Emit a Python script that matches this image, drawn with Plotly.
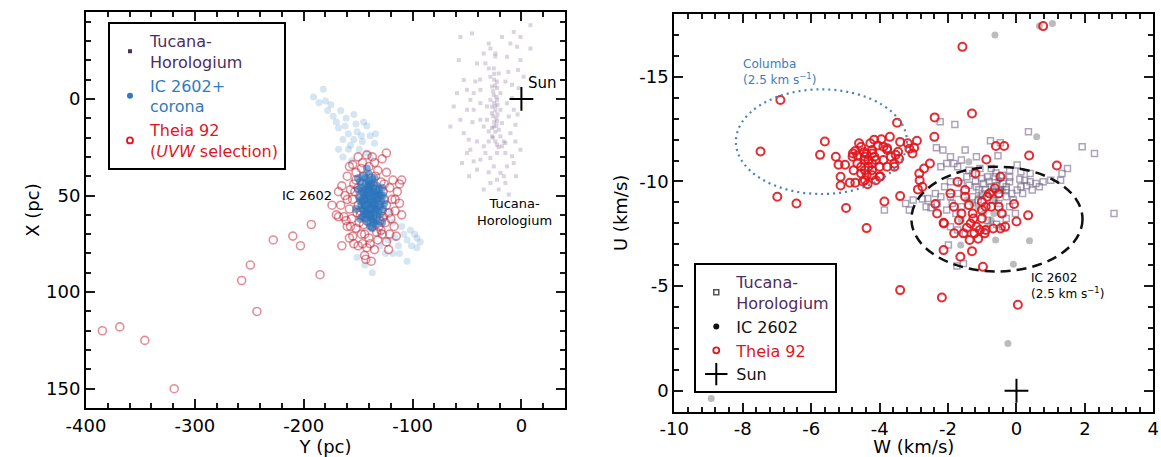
import plotly.graph_objects as go

# ================= DATA =================
# ---- Left panel: galactic positions (Y pc, X pc) ----
tuc_pos = [(8.3,-38.2),(-45.4,-33.9),(-7.0,-34.7),(-17.8,-32.1),(-30.0,-28.7),(-28.5,-26.1),(-34.6,-23.5),
    (-23.9,-23.5),(-57.6,-20.1),(-0.9,-32.1),(-13.2,-21.8),(-53.0,-9.8),(-42.3,-9.0),(-30.0,-15.8),
    (-25.4,-15.8),(-20.8,-13.2),(-28.5,-11.5),(-14.7,-9.0),(-8.6,-7.3),(-37.7,-4.7),(-22.4,-5.6),
    (-25.4,-2.1),(-22.4,0.5),(-23.9,3.9),(-19.3,5.6),(-27.0,7.4),(-31.6,10.8),(-22.4,11.7),(-17.8,12.5),
    (-25.4,14.3),(-20.8,16.0),(-30.0,16.8),(-19.3,19.4),(-23.9,22.0),(-14.7,22.8),(-34.6,24.5),
    (-40.8,22.0),(-48.4,21.1),(-53.0,17.7),(-56.1,10.8),(-43.8,5.6),(-37.7,2.2),(-46.9,0.5),(-50.0,5.6),
    (-37.7,10.8),(-34.6,14.3),(-11.6,9.1),(-7.0,5.6),(-5.5,13.4),(-10.1,17.7),(-14.7,28.0),(-8.6,29.7),
    (-22.4,28.0),(-28.5,30.6),(-37.7,31.4),(-43.8,32.3),(-54.6,33.2),(-46.9,26.3),(-25.4,34.9),
    (-19.3,38.3),(-13.2,34.9),(-7.0,33.2),(-22.4,41.8),(-28.5,43.5),(-16.2,40.0),(-34.6,46.9),
    (-20.8,46.9),(-14.7,43.5),(-11.6,49.5),(-0.9,-20.1),(-4.0,-27.0),(-10.1,-28.7),(-56.1,-32.1),
    (8.3,-26.1),(-40.8,-18.4),(-33.1,-18.4),(-22.4,-9.0),(-27.0,-6.4),(-19.3,-3.0),(-28.5,0.5),
    (-31.6,3.9),(-13.2,2.2),(-8.6,-0.4),(-2.5,-5.6),(2.1,-11.5),(-59.2,-3.0),(-50.0,-4.7),(-43.8,-3.0),
    (-16.2,22.0),(-17.8,24.5),(-27.0,19.4),(-30.0,22.0),(-22.4,23.7),(-33.1,28.0),(-40.8,36.6),
    (-50.0,28.0),(-0.9,26.3),(-5.5,22.0),(-65.3,14.3),(-62.2,3.9),(-3.5,8.0),(-12.0,-14.0),
    (-45.0,12.0),(-38.0,-10.0),(-5.0,40.0),(-30.0,38.0),(-48.0,40.0),(-3.0,-15.0),
    (-25,-10),(-24,-7),(-26,-4),(-23,-1),(-25,2),(-27,4),(-24,6),(-22,8),(-26,9),(-25,12),(-23,14),
    (-27,15),(-24,17),(-26,20),(-21,25),(-25,-13),(-24,-22),(-23,10),(-22,3)]

ic_corona_pos = [(-182,-5),(-191,-1),(-186,2),(-180,1),(-178,6),(-173,9),(-166,6),(-161,10),(-154,8),
    (-152,13),(-168,15),(-159,18),(-151,17),(-142,14),(-139,19),(-134,18),(-164,21),(-154,21),
    (-146,22),(-135,23),(-168,26),(-159,26),(-149,26),(-142,28),(-164,30),(-156,32),(-139,30),
    (-170,12),(-175,3),(-162,14),(-147,19),(-157,24),(-145,12),
    (-125,61),(-118,64),(-129,69),(-122,73),(-113,76),(-108,70),(-105,73),(-98,70),(-101,76),
    (-93,74),(-112,80),(-105,84),(-118,80),(-125,80),(-137,90),(-144,86),(-151,82),(-96,77),
    (-102,68),(-110,66),(-116,72),(-130,76),(-120,58),(-96,72)]

ic_core_pos = [(-145,40),(-140,39),(-135,41),(-148,43),(-143,44),(-138,44),(-133,45),(-128,46),
    (-150,47),(-146,48),(-141,48),(-136,48),(-131,49),(-127,50),(-149,51),(-144,52),(-139,52),
    (-134,52),(-129,53),(-147,55),(-142,55),(-137,56),(-132,56),(-127,57),(-145,58),(-140,59),
    (-135,59),(-130,60),(-143,62),(-138,62),(-133,63),(-141,50),(-137,53),(-143,47),(-135,55),
    (-139,57),(-131,47),(-146,53),(-141,45),(-136,51),(-144,60),(-134,65),(-139,66),(-148,62),
    (-152,57),(-126,54),(-128,64),(-142,36),(-137,67),(-150,41),(-140,54),(-138,49),(-142,58),
    (-136,46),(-144,50),(-134,57),(-140,43),(-132,52),(-146,57),(-138,60),(-142,52),(-136,55),
    (-140,47),(-134,49),(-144,55),(-139,61),(-147,46),(-133,50),(-130,56),(-145,49),(-139,45),
    (-135,62),(-141,64),(-148,53),(-129,50),(-137,42),(-132,59),(-143,41),(-146,61),(-136,64)]

theia_pos = [(-385,120),(-369,118),(-346,125),(-319,150),(-243,110),(-257,94),(-249,86),(-185,91),
    (-228,73),(-203,76),(-210,71),(-193,65),(-168,61),(-174,55),(-161,63),(-165,76),(-124,28),
    (-110,42),(-116,52),(-115,71),
    (-150,30),(-142,29),(-135,33),(-128,31),(-158,35),(-147,36),(-140,35),(-132,37),(-124,38),
    (-118,42),(-160,40),(-152,42),(-145,40),(-138,41),(-129,43),(-121,46),(-114,48),(-165,45),
    (-157,47),(-150,46),(-136,45),(-127,48),(-119,52),(-112,54),(-162,50),(-155,52),(-148,50),
    (-140,48),(-132,51),(-124,55),(-116,58),(-166,55),(-158,57),(-150,55),(-143,55),(-136,54),
    (-128,58),(-120,62),(-163,61),(-156,62),(-148,60),(-140,60),(-133,61),(-125,64),(-117,66),
    (-160,66),(-152,67),(-145,65),(-137,66),(-129,68),(-121,70),(-155,71),(-147,70),(-140,72),
    (-132,73),(-124,74),(-150,76),(-142,77),(-135,78),(-128,70),(-144,81),(-138,84),(-146,44),
    (-134,47),(-142,63),(-152,38),(-126,52),(-130,63),(-160,52),(-139,57),(-145,52),(-136,60),
    (-148,58),(-131,55),(-153,48),(-170,60),(-168,48),(-112,44),(-110,60),(-155,34),(-137,30),
    (-143,83),(-146,75),(-122,78),(-158,72),(-154,44),(-126,44),(-131,66),(-149,64),(-122,59),
    (-157,66),(-139,75),(-133,69),(-151,59),(-127,61),(-144,70),(-134,40),(-146,33),(-154,75)]

sun_pos = (0, 0)

# ---- Right panel: velocities (W km/s, U km/s) ----
tuc_vel = [(-2.23,-12.85),(-1.80,-12.72),(-0.76,-11.94),(-0.47,-11.85),(-0.54,-11.23),(-1.50,-11.50),
    (-1.17,-11.18),(0.35,-12.37),(1.92,-11.66),(2.28,-11.34),(1.49,-10.62),(1.33,-10.38),(1.29,-10.06),
    (-2.34,-11.61),(-2.15,-11.50),(-1.93,-11.18),(-1.83,-10.86),(-2.04,-10.86),(-2.21,-10.70),
    (-1.72,-10.70),(-1.61,-11.02),(-1.39,-10.54),(-1.28,-10.38),(-1.07,-10.62),(-0.74,-10.62),
    (-0.85,-10.22),(-0.63,-10.22),(-0.41,-10.30),(-0.20,-10.54),(0.02,-10.78),(0.13,-10.46),
    (0.24,-10.06),(0.40,-9.98),(0.57,-9.90),(0.78,-9.98),(1.00,-10.06),(0.67,-9.75),(0.46,-9.59),
    (0.13,-9.75),(-0.20,-9.98),(-0.30,-9.75),(-0.52,-9.59),(-0.74,-9.75),(-0.96,-9.90),(-1.17,-9.75),
    (-1.39,-9.82),(-1.61,-9.90),(-1.93,-9.98),(-2.10,-9.75),(-2.37,-9.43),(-2.21,-9.27),(-1.93,-9.27),
    (-1.72,-9.43),(-2.59,-9.19),(-2.75,-9.16),(-3.02,-9.11),(-3.24,-8.95),(-3.13,-8.63),(-2.32,-8.95),
    (-2.50,-8.74),(-2.64,-8.79),(-2.04,-8.63),(-1.77,-8.47),(-1.61,-8.79),(-1.28,-9.27),(-1.12,-9.11),
    (-0.68,-9.11),(-0.52,-8.95),(-0.30,-9.27),(-0.14,-9.43),(0.02,-9.59),(0.18,-9.43),(-0.20,-8.79),
    (-0.41,-8.47),(-0.30,-8.23),(-0.58,-7.96),(-0.85,-8.15),(-1.72,-7.68),(-1.93,-7.83),(-1.99,-6.96),
    (-1.50,-7.52),(-0.41,-7.83),(2.85,-8.47),(-3.86,-8.63),(-1.74,-5.96),(-1.55,-6.08),(-0.03,-8.47),
    (-0.09,-9.11),(-1.88,-8.95),(-1.45,-10.22),(-1.01,-10.14),(0.40,-10.38),
    (-0.9,-9.6),(-0.6,-9.8),(-0.4,-9.9),(-1.0,-9.4),(-0.7,-9.5),(-0.2,-10.2),(0.1,-10.1),(-1.2,-10.0),
    (-0.5,-9.4),(-0.8,-10.0),(-0.3,-9.6),(-1.1,-9.6),(0.3,-9.8),(-0.6,-10.4)]

ic_vel = [(-0.63,-17.0),(1.05,-17.55),(0.67,-17.42),(0.59,-12.13),(-0.61,-7.2),(-1.63,-6.96),
    (-0.09,-6.04),(0.38,-7.17),(-0.25,-2.26),(-8.92,0.37),(-1.39,-10.94),(-0.85,-9.43),(-1.07,-9.27),
    (-0.63,-9.11),(-0.41,-9.59),(-1.28,-8.95),(-0.96,-8.47),(-0.74,-8.15),(-1.12,-8.79),(-1.45,-9.11),
    (-0.52,-10.06),(-1.61,-8.15),(-0.85,-7.83),(-0.66,-8.47)]

theia_vel = [(0.78,-17.42),(-1.58,-16.43),(-6.90,-13.89),(-1.30,-13.25),(-2.39,-13.06),(-3.49,-12.80),
    (-2.40,-12.13),(-5.60,-11.91),(-7.48,-11.43),(-5.74,-11.27),(-5.28,-11.18),(-0.60,-11.69),
    (-0.36,-11.69),(0.37,-11.24),(1.18,-10.76),(-6.99,-9.27),(-6.43,-8.95),(-4.98,-8.73),(-3.86,-9.04),
    (-3.40,-9.30),(-4.38,-7.77),(-3.40,-4.81),(-2.18,-4.46),(0.04,-4.11),(-0.98,-5.92),(-1.64,-6.40),
    (-1.30,-6.67),(-2.13,-6.72),(-1.82,-7.52),(0.34,-8.38),(-0.07,-8.92),(0.0,-8.09),(-2.13,-8.03),
    (-5.20,-10.80),(-5.01,-10.80),(-4.79,-11.18),(-4.71,-11.46),(-4.54,-11.66),(-4.46,-11.40),
    (-4.22,-11.50),(-4.05,-11.72),(-3.95,-12.01),(-3.70,-12.13),(-3.89,-11.66),(-3.78,-11.50),
    (-4.15,-11.18),(-4.33,-11.02),(-4.43,-11.18),(-4.65,-10.86),(-4.76,-10.54),(-4.54,-10.38),
    (-4.22,-10.54),(-4.00,-10.70),(-3.78,-10.70),(-3.57,-10.70),(-4.43,-10.06),(-4.71,-9.94),
    (-4.87,-9.94),(-5.14,-10.22),(-5.14,-9.81),(-4.35,-9.87),(-4.00,-10.22),(-3.78,-11.58),
    (-3.46,-11.42),(-3.40,-11.89),(-3.18,-11.82),(-3.13,-11.56),(-3.04,-11.34),(-2.91,-11.94),
    (-2.99,-11.61),(-3.43,-11.08),(-3.53,-11.27),(-4.11,-11.02),(-4.22,-10.86),(-4.33,-10.70),
    (-4.54,-10.70),(-4.43,-11.02),(-4.65,-11.24),(-4.27,-11.82),(-4.16,-11.99),(-4.60,-11.82),
    (-4.38,-11.31),(-4.22,-11.34),(-4.78,-11.34),(-4.43,-10.54),(-4.38,-10.30),(-4.22,-10.30),
    (-3.89,-11.02),(-3.67,-11.18),(-3.57,-10.86),(-4.11,-10.06),(-3.98,-10.25),(-4.49,-10.00),
    (-2.84,-10.38),(-2.70,-10.62),(-2.53,-10.86),(-2.83,-10.06),(-2.75,-9.75),(-2.88,-9.62),
    (-2.37,-8.92),(-2.32,-8.47),(-2.12,-7.99),(-1.83,-8.79),(-1.50,-9.27),(-1.50,-9.59),(-1.39,-8.87),
    (-1.28,-8.47),(-1.34,-7.99),(-1.20,-10.38),(-0.88,-11.05),(-0.47,-10.22),(-0.52,-9.43),
    (-0.85,-9.27),(-0.90,-8.79),(-1.01,-8.63),(-0.74,-8.79),(-0.52,-8.79),(-0.43,-8.47),(-1.01,-8.23),
    (-1.17,-7.83),(-1.23,-7.52),(-1.37,-7.20),(-1.07,-7.68),(-0.90,-7.68),(-0.68,-7.75),(-0.47,-7.75),
    (-0.33,-7.83),(-1.12,-7.26),(-0.93,-7.52),(-1.68,-8.15),(-1.55,-7.52),(-1.45,-7.79),(-0.79,-9.43),
    (-0.63,-9.67),(-1.72,-9.98),(-1.93,-9.43),(-1.61,-8.47),(-1.26,-8.23),(-1.01,-9.03)]

# Velocity-ellipse definitions (km/s)
columba_center = (-5.7, -11.9)
ic2602_center = (-0.57, -8.2)
ellipse_radius = 2.5

# Axis ranges
left_xrange = [-400, 40]
left_yrange = [160, -45]
right_xrange = [-10, 4]
right_yrange = [1, -18]

# Tick labels
left_xticks = [-400, -300, -200, -100, 0]
left_xtext = ["-400", "-300", "-200", "-100", "0"]
left_yticks = [0, 50, 100, 150]
left_ytext = ["0", "50", "100", "150"]
right_xticks = [-10, -8, -6, -4, -2, 0, 2, 4]
right_xtext = ["-10", "-8", "-6", "-4", "-2", "0", "2", "4"]
right_yticks = [-15, -10, -5, 0]
right_ytext = ["-15", "-10", "-5", "0"]

# Minor tick spacing
left_xminor, left_yminor, right_xminor, right_yminor = 20, 10, 0.4, 1

# ================= FIGURE =================
def xs(p): return [a for a, b in p]
def ys(p): return [b for a, b in p]

FONT = "DejaVu Sans"
C_TUC = "#4e2d5f"
C_IC = "#2f7bc0"
C_RED = "#e0161e"
TICK = "#1a1a1a"

fig = go.Figure()

# --- left panel ---
fig.add_trace(go.Scatter(x=xs(tuc_pos), y=ys(tuc_pos), mode="markers", xaxis="x", yaxis="y",
    marker=dict(symbol="square", size=4, color="#5b3d70", opacity=0.22), showlegend=False))
fig.add_trace(go.Scatter(x=xs(ic_corona_pos), y=ys(ic_corona_pos), mode="markers", xaxis="x", yaxis="y",
    marker=dict(symbol="circle", size=7, color=C_IC, opacity=0.2), showlegend=False))
fig.add_trace(go.Scatter(x=xs(theia_pos), y=ys(theia_pos), mode="markers", xaxis="x", yaxis="y",
    marker=dict(symbol="circle-open", size=8, color="#c42035", opacity=0.5, line=dict(width=1.6)),
    showlegend=False))
fig.add_trace(go.Scatter(x=xs(ic_core_pos), y=ys(ic_core_pos), mode="markers", xaxis="x", yaxis="y",
    marker=dict(symbol="circle", size=8, color="#2a74bd", opacity=0.6), showlegend=False))
fig.add_trace(go.Scatter(x=[sun_pos[0]], y=[sun_pos[1]], mode="markers", xaxis="x", yaxis="y",
    marker=dict(symbol="cross-thin", size=17, line=dict(width=2, color="black")), showlegend=False))

# left legend entries
fig.add_trace(go.Scatter(x=[None], y=[None], mode="markers", xaxis="x", yaxis="y", legend="legend",
    name=f"<span style='color:{C_TUC}'>Tucana-<br>Horologium</span>",
    marker=dict(symbol="square", size=4, color=C_TUC)))
fig.add_trace(go.Scatter(x=[None], y=[None], mode="markers", xaxis="x", yaxis="y", legend="legend",
    name=f"<span style='color:{C_IC}'>IC 2602+<br>corona</span>",
    marker=dict(symbol="circle", size=6, color=C_IC)))
fig.add_trace(go.Scatter(x=[None], y=[None], mode="markers", xaxis="x", yaxis="y", legend="legend",
    name=f"<span style='color:{C_RED}'>Theia 92<br>(<i>UVW</i> selection)</span>",
    marker=dict(symbol="circle-open", size=6, color=C_RED, line=dict(width=1.8))))

# --- right panel ---
fig.add_trace(go.Scatter(x=xs(tuc_vel), y=ys(tuc_vel), mode="markers", xaxis="x2", yaxis="y2",
    marker=dict(symbol="square-open", size=6, color="#76688c", opacity=0.6, line=dict(width=1.5)),
    showlegend=False))
fig.add_trace(go.Scatter(x=xs(ic_vel), y=ys(ic_vel), mode="markers", xaxis="x2", yaxis="y2",
    marker=dict(symbol="circle", size=7, color="#222222", opacity=0.3), showlegend=False))
fig.add_trace(go.Scatter(x=xs(theia_vel), y=ys(theia_vel), mode="markers", xaxis="x2", yaxis="y2",
    marker=dict(symbol="circle-open", size=8, color=C_RED, opacity=0.9, line=dict(width=2)),
    showlegend=False))
fig.add_trace(go.Scatter(x=[sun_pos[0]], y=[sun_pos[1]], mode="markers", xaxis="x2", yaxis="y2",
    marker=dict(symbol="cross-thin", size=17, line=dict(width=2, color="black")), showlegend=False))

# right legend entries
fig.add_trace(go.Scatter(x=[None], y=[None], mode="markers", xaxis="x2", yaxis="y2", legend="legend2",
    name=f"<span style='color:{C_TUC}'>Tucana-<br>Horologium</span>",
    marker=dict(symbol="square-open", size=5, color="#555555", line=dict(width=1.5))))
fig.add_trace(go.Scatter(x=[None], y=[None], mode="markers", xaxis="x2", yaxis="y2", legend="legend2",
    name="<span style='color:#111111'>IC 2602</span>",
    marker=dict(symbol="circle", size=6, color="#111111")))
fig.add_trace(go.Scatter(x=[None], y=[None], mode="markers", xaxis="x2", yaxis="y2", legend="legend2",
    name=f"<span style='color:{C_RED}'>Theia 92</span>",
    marker=dict(symbol="circle-open", size=6, color=C_RED, line=dict(width=1.8))))
fig.add_trace(go.Scatter(x=[None], y=[None], mode="markers", xaxis="x2", yaxis="y2", legend="legend2",
    name="<span style='color:#111111'>Sun</span>",
    marker=dict(symbol="cross-thin", size=16, line=dict(width=2, color="black"))))

# ellipses
cw, cu = columba_center
iw, iu = ic2602_center
r = ellipse_radius
fig.add_shape(type="circle", xref="x2", yref="y2", x0=cw - r, x1=cw + r, y0=cu - r, y1=cu + r,
              line=dict(color="#4a82b8", width=2.2, dash="2px,4px"))
fig.add_shape(type="circle", xref="x2", yref="y2", x0=iw - r, x1=iw + r, y0=iu - r, y1=iu + r,
              line=dict(color="#111111", width=2.5, dash="10px,6px"))

# annotations
ann_font = dict(family=FONT, size=13, color="black")
fig.add_annotation(x=19, y=-8, xref="x", yref="y", text="Sun", showarrow=False,
                   font=dict(family=FONT, size=15, color="black"))
fig.add_annotation(x=-197, y=50, xref="x", yref="y", text="IC 2602", showarrow=False, font=ann_font)
fig.add_annotation(x=-6, y=58.5, xref="x", yref="y", text="Tucana-<br>Horologium", showarrow=False,
                   font=ann_font)
fig.add_annotation(x=-8.05, y=-15.25, xref="x2", yref="y2", xanchor="left",
                   text="Columba<br>(2.5 km s<sup>−1</sup>)", showarrow=False, align="left",
                   font=dict(family=FONT, size=12, color="#3d7dbb"))
fig.add_annotation(x=0.38, y=-5.0, xref="x2", yref="y2", xanchor="left",
                   text="IC 2602<br>(2.5 km s<sup>−1</sup>)", showarrow=False, align="left",
                   font=dict(family=FONT, size=12, color="black"))

def axis(domain, rng, tv, tt, minor_dtick, title, anchor):
    return dict(domain=domain, range=rng, tickmode="array", tickvals=tv, ticktext=tt,
                ticks="inside", ticklen=9, tickwidth=2, tickcolor=TICK,
                showline=True, linewidth=2, linecolor="black", mirror="ticks",
                showgrid=False, zeroline=False, automargin=False, anchor=anchor,
                tickfont=dict(family=FONT, size=18, color="black"),
                minor=dict(tickmode="linear", tick0=0, dtick=minor_dtick, ticks="inside",
                           ticklen=5, tickwidth=2, tickcolor=TICK, showgrid=False),
                title=dict(text=title, font=dict(family=FONT, size=18, color="black")))

fig.update_layout(
    width=1161, height=457,
    margin=dict(l=0, r=0, t=0, b=0),
    template="none",
    paper_bgcolor="white", plot_bgcolor="white",
    font=dict(family=FONT, color="black"),
    xaxis=axis([0.0741, 0.4866], left_xrange, left_xticks, left_xtext, left_xminor, "Y (pc)", "y"),
    yaxis=axis([0.1072, 0.9737], left_yrange, left_yticks, left_ytext, left_yminor, "X (pc)", "x"),
    xaxis2=axis([0.5808, 0.9934], right_xrange, right_xticks, right_xtext, right_xminor, "W (km/s)", "y2"),
    yaxis2=axis([0.0991, 0.9694], right_yrange, right_yticks, right_ytext, right_yminor, "U (km/s)", "x2"),
    legend=dict(x=0.093, y=0.952, xanchor="left", yanchor="top", bgcolor="white",
                bordercolor="black", borderwidth=2, font=dict(family=FONT, size=16),
                valign="middle", itemsizing="trace", tracegroupgap=2),
    legend2=dict(x=0.598, y=0.4245, xanchor="left", yanchor="top", bgcolor="white",
                 bordercolor="black", borderwidth=2, font=dict(family=FONT, size=16),
                 valign="middle", itemsizing="trace"),
    hovermode=False,
)

fig.write_html("out.html")
